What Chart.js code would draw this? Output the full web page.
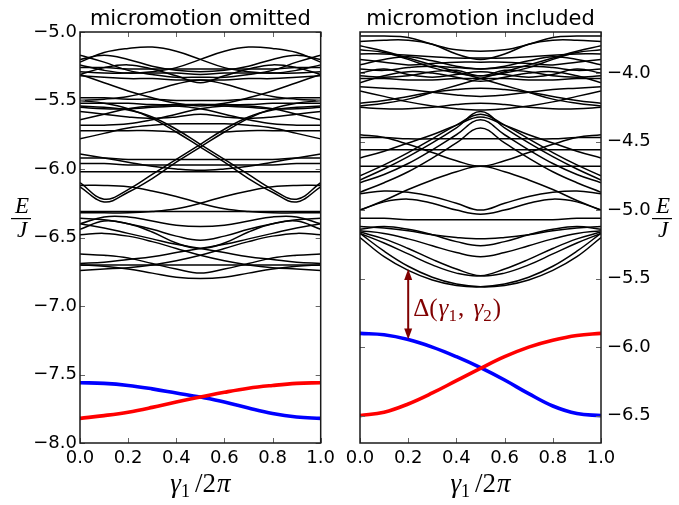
<!DOCTYPE html>
<html>
<head>
<meta charset="utf-8">
<script src="https://cdn.jsdelivr.net/npm/chart.js@4/dist/chart.umd.min.js"></script>
<style>
  html, body { margin: 0; padding: 0; background: #fff; }
  #wrap { position: relative; width: 679px; height: 505px; }
  canvas { position: absolute; top: 0; }
  #omitted { left: 0; }
  #included { left: 340px; }
</style>
</head>
<body>
<div id="wrap">
  <canvas id="omitted" width="340" height="505"></canvas>
  <canvas id="included" width="339" height="505"></canvas>
</div>
<script>
// gamma_1 / 2pi sample points, shared by every band
var gammaSteps = [0, 0.1, 0.2, 0.3, 0.4, 0.5, 0.6, 0.7, 0.8, 0.9, 1.0];
var xTicks = [0, 0.2, 0.4, 0.6, 0.8, 1.0];
var omittedTicks = [-8.0, -7.5, -7.0, -6.5, -6.0, -5.5, -5.0];
var includedTicks = [-6.5, -6.0, -5.5, -5.0, -4.5, -4.0];

// two lowest levels, micromotion omitted
var omittedRed  = [-7.82, -7.80, -7.775, -7.74, -7.70, -7.665, -7.63, -7.60, -7.58, -7.565, -7.56];
var omittedBlue = [-7.56, -7.565, -7.58, -7.605, -7.635, -7.665, -7.70, -7.745, -7.785, -7.81, -7.82];

// excited bands, micromotion omitted
var omittedBands = [
  [-5.22, -5.15, -5.12, -5.11, -5.14, -5.20, -5.26, -5.29, -5.30, -5.28, -5.24],
  [-5.24, -5.28, -5.30, -5.29, -5.26, -5.20, -5.14, -5.11, -5.12, -5.15, -5.22],
  [-5.20, -5.17, -5.20, -5.25, -5.28, -5.29, -5.28, -5.25, -5.20, -5.17, -5.20],
  [-5.26, -5.26, -5.27, -5.27, -5.27, -5.27, -5.27, -5.27, -5.27, -5.26, -5.26],
  [-5.29, -5.30, -5.30, -5.30, -5.30, -5.31, -5.30, -5.30, -5.30, -5.30, -5.29],
  [-5.17, -5.22, -5.28, -5.31, -5.33, -5.33, -5.33, -5.31, -5.28, -5.22, -5.17],
  [-5.31, -5.26, -5.24, -5.27, -5.32, -5.37, -5.32, -5.27, -5.24, -5.26, -5.31],
  [-5.32, -5.33, -5.34, -5.34, -5.35, -5.35, -5.35, -5.34, -5.34, -5.33, -5.32],
  [-5.31, -5.37, -5.43, -5.48, -5.52, -5.54, -5.52, -5.48, -5.43, -5.37, -5.31],
  [-5.50, -5.49, -5.47, -5.43, -5.38, -5.35, -5.38, -5.43, -5.47, -5.49, -5.50],
  [-5.48, -5.48, -5.49, -5.49, -5.50, -5.50, -5.50, -5.49, -5.49, -5.48, -5.48],
  [-5.52, -5.52, -5.52, -5.53, -5.53, -5.53, -5.53, -5.53, -5.52, -5.52, -5.52],
  [-5.55, -5.56, -5.56, -5.55, -5.54, -5.53, -5.54, -5.55, -5.56, -5.56, -5.55],
  [-5.64, -5.60, -5.56, -5.54, -5.54, -5.56, -5.60, -5.64, -5.67, -5.68, -5.68],
  [-5.68, -5.68, -5.67, -5.64, -5.60, -5.56, -5.54, -5.54, -5.56, -5.60, -5.64],
  [-5.58, -5.60, -5.62, -5.63, -5.62, -5.60, -5.62, -5.63, -5.62, -5.60, -5.58],
  [-5.78, -5.74, -5.70, -5.68, -5.67, -5.67, -5.67, -5.68, -5.70, -5.74, -5.78],
  [-5.72, -5.72, -5.72, -5.72, -5.73, -5.73, -5.73, -5.72, -5.72, -5.72, -5.72],
  [-6.13, -6.24, -6.17, -6.07, -5.95, -5.84, -5.73, -5.63, -5.56, -5.52, -5.50],
  [-5.50, -5.52, -5.56, -5.63, -5.73, -5.84, -5.95, -6.07, -6.17, -6.24, -6.13],
  [-6.10, -6.22, -6.15, -6.04, -5.93, -5.82, -5.71, -5.62, -5.57, -5.55, -5.54],
  [-5.54, -5.55, -5.57, -5.62, -5.71, -5.82, -5.93, -6.04, -6.15, -6.22, -6.10],
  [-5.89, -5.92, -5.95, -5.98, -6.00, -6.01, -6.00, -5.98, -5.95, -5.92, -5.89],
  [-5.92, -5.92, -5.93, -5.93, -5.93, -5.93, -5.93, -5.93, -5.93, -5.92, -5.92],
  [-5.96, -5.96, -5.97, -5.97, -5.97, -5.97, -5.97, -5.97, -5.97, -5.96, -5.96],
  [-6.02, -6.02, -6.02, -6.02, -6.02, -6.02, -6.02, -6.02, -6.02, -6.02, -6.02],
  [-6.12, -6.12, -6.13, -6.16, -6.20, -6.25, -6.29, -6.31, -6.32, -6.32, -6.32],
  [-6.32, -6.32, -6.32, -6.31, -6.29, -6.25, -6.20, -6.16, -6.13, -6.12, -6.12],
  [-6.31, -6.31, -6.31, -6.31, -6.31, -6.31, -6.31, -6.31, -6.31, -6.31, -6.31],
  [-6.40, -6.35, -6.35, -6.38, -6.41, -6.42, -6.41, -6.38, -6.35, -6.35, -6.40],
  [-6.36, -6.37, -6.40, -6.44, -6.49, -6.52, -6.49, -6.44, -6.40, -6.37, -6.36],
  [-6.44, -6.38, -6.40, -6.46, -6.54, -6.58, -6.54, -6.46, -6.40, -6.38, -6.44],
  [-6.40, -6.43, -6.47, -6.51, -6.55, -6.58, -6.61, -6.64, -6.66, -6.68, -6.69],
  [-6.69, -6.68, -6.66, -6.64, -6.61, -6.58, -6.55, -6.51, -6.47, -6.43, -6.40],
  [-6.62, -6.63, -6.65, -6.69, -6.73, -6.76, -6.73, -6.69, -6.65, -6.63, -6.62],
  [-6.70, -6.70, -6.70, -6.70, -6.70, -6.70, -6.70, -6.70, -6.70, -6.70, -6.70],
  [-6.70, -6.71, -6.73, -6.76, -6.79, -6.80, -6.79, -6.76, -6.73, -6.71, -6.70],
  [-6.48, -6.47, -6.49, -6.53, -6.58, -6.63, -6.67, -6.70, -6.72, -6.73, -6.74],
  [-6.74, -6.73, -6.72, -6.70, -6.67, -6.63, -6.58, -6.53, -6.49, -6.47, -6.48]
];

// two lowest levels, micromotion included
var includedRed  = [-6.50, -6.475, -6.415, -6.335, -6.245, -6.155, -6.07, -6.00, -5.95, -5.915, -5.90];
var includedBlue = [-5.90, -5.91, -5.945, -6.00, -6.07, -6.15, -6.24, -6.34, -6.43, -6.485, -6.50];

// excited bands, micromotion included
var includedBands = [
  [-3.73, -3.73, -3.74, -3.79, -3.83, -3.84, -3.83, -3.79, -3.74, -3.73, -3.73],
  [-3.77, -3.76, -3.76, -3.79, -3.86, -3.90, -3.86, -3.79, -3.76, -3.76, -3.77],
  [-3.80, -3.84, -3.89, -3.94, -3.99, -4.04, -4.09, -4.14, -4.19, -4.22, -4.24],
  [-4.24, -4.22, -4.19, -4.14, -4.09, -4.04, -3.99, -3.94, -3.89, -3.84, -3.80],
  [-3.86, -3.86, -3.87, -3.88, -3.89, -3.89, -3.89, -3.88, -3.87, -3.86, -3.86],
  [-3.90, -3.92, -3.94, -3.93, -3.92, -3.92, -3.92, -3.93, -3.94, -3.92, -3.90],
  [-3.94, -3.90, -3.88, -3.91, -3.95, -3.97, -3.95, -3.91, -3.88, -3.90, -3.94],
  [-3.97, -3.98, -3.96, -3.95, -3.96, -3.97, -3.96, -3.95, -3.96, -3.98, -3.97],
  [-4.00, -3.97, -4.01, -4.03, -4.01, -3.99, -4.01, -4.03, -4.01, -3.97, -4.00],
  [-4.02, -4.03, -4.02, -3.99, -3.98, -4.02, -3.98, -3.99, -4.02, -4.03, -4.02],
  [-4.04, -4.04, -4.05, -4.05, -4.04, -4.04, -4.04, -4.05, -4.05, -4.04, -4.04],
  [-3.83, -3.85, -3.90, -3.96, -4.00, -4.02, -4.00, -3.96, -3.90, -3.85, -3.83],
  [-4.07, -4.02, -3.99, -4.00, -4.03, -4.06, -4.03, -4.00, -3.99, -4.02, -4.07],
  [-4.10, -4.11, -4.12, -4.14, -4.16, -4.17, -4.16, -4.14, -4.12, -4.11, -4.10],
  [-4.22, -4.20, -4.17, -4.14, -4.12, -4.11, -4.12, -4.14, -4.17, -4.20, -4.22],
  [-4.13, -4.17, -4.21, -4.24, -4.26, -4.27, -4.26, -4.24, -4.21, -4.17, -4.13],
  [-4.25, -4.26, -4.26, -4.25, -4.23, -4.22, -4.23, -4.25, -4.26, -4.26, -4.25],
  [-4.62, -4.57, -4.51, -4.45, -4.38, -4.32, -4.38, -4.45, -4.51, -4.57, -4.62],
  [-4.78, -4.70, -4.61, -4.51, -4.40, -4.28, -4.40, -4.51, -4.61, -4.70, -4.78],
  [-4.75, -4.67, -4.58, -4.48, -4.38, -4.30, -4.38, -4.48, -4.58, -4.67, -4.75],
  [-4.80, -4.74, -4.66, -4.56, -4.45, -4.34, -4.45, -4.56, -4.66, -4.74, -4.80],
  [-4.87, -4.80, -4.72, -4.62, -4.51, -4.40, -4.51, -4.62, -4.72, -4.80, -4.87],
  [-4.47, -4.47, -4.48, -4.48, -4.48, -4.48, -4.48, -4.48, -4.48, -4.47, -4.47],
  [-4.56, -4.56, -4.56, -4.56, -4.56, -4.56, -4.56, -4.56, -4.56, -4.56, -4.56],
  [-4.68, -4.68, -4.68, -4.68, -4.68, -4.68, -4.68, -4.68, -4.68, -4.68, -4.68],
  [-5.00, -4.93, -4.85, -4.78, -4.72, -4.68, -4.72, -4.78, -4.85, -4.93, -5.00],
  [-4.45, -4.47, -4.52, -4.58, -4.64, -4.68, -4.64, -4.58, -4.52, -4.47, -4.45],
  [-4.88, -4.86, -4.87, -4.90, -4.95, -5.00, -4.95, -4.90, -4.87, -4.86, -4.88],
  [-5.00, -4.94, -4.92, -4.95, -5.00, -5.03, -5.00, -4.95, -4.92, -4.94, -5.00],
  [-5.06, -5.06, -5.07, -5.07, -5.07, -5.07, -5.07, -5.07, -5.07, -5.06, -5.06],
  [-5.12, -5.13, -5.15, -5.18, -5.20, -5.21, -5.20, -5.18, -5.15, -5.13, -5.12],
  [-5.14, -5.12, -5.14, -5.18, -5.23, -5.26, -5.23, -5.18, -5.14, -5.12, -5.14],
  [-5.15, -5.17, -5.21, -5.26, -5.31, -5.34, -5.31, -5.26, -5.21, -5.17, -5.15],
  [-5.16, -5.21, -5.28, -5.36, -5.43, -5.48, -5.46, -5.40, -5.32, -5.24, -5.17],
  [-5.17, -5.24, -5.32, -5.40, -5.46, -5.48, -5.43, -5.36, -5.28, -5.21, -5.16],
  [-5.17, -5.30, -5.41, -5.49, -5.54, -5.56, -5.55, -5.51, -5.44, -5.34, -5.20],
  [-5.20, -5.34, -5.44, -5.51, -5.55, -5.56, -5.54, -5.49, -5.41, -5.30, -5.17]
];

// gap between ground band and first excited band
var gapGamma = 0.2;
var gapTop = -5.43;
var gapBottom = -5.945;

var SANS = '"DejaVu Sans", sans-serif';
var SERIF = '"Liberation Serif", "DejaVu Serif", serif';
var GAP_COLOR = '#800000';

function series(vals, color, width) {
  return {
    data: vals.map(function (v, i) { return { x: gammaSteps[i], y: v }; }),
    borderColor: color,
    borderWidth: width,
    pointRadius: 0,
    fill: false,
    tension: 0.4
  };
}

function buildSets(bands, red, blue) {
  var sets = [series(red, '#ff0000', 3.6), series(blue, '#0000ff', 3.6)];
  bands.forEach(function (b) { sets.push(series(b, '#000000', 1.5)); });
  return sets;
}

// draws a row of text pieces (for the math labels), starting at x
function drawRuns(ctx, runs, x, y, centered) {
  var total = 0;
  runs.forEach(function (r) {
    ctx.font = r.font;
    r.w = ctx.measureText(r.text).width + (r.gap || 0);
    total += r.w;
  });
  if (centered) x -= total / 2;
  ctx.textAlign = 'left';
  ctx.textBaseline = 'alphabetic';
  runs.forEach(function (r) {
    ctx.font = r.font;
    ctx.fillText(r.text, x, y + (r.dy || 0));
    x += r.w;
  });
}

function drawFraction(ctx, cx) {
  ctx.fillStyle = '#000';
  ctx.textAlign = 'center';
  ctx.textBaseline = 'alphabetic';
  ctx.font = 'italic 23px ' + SERIF;
  ctx.fillText('E', cx + 1, 213);
  ctx.fillText('J', cx + 1, 237);
  ctx.fillRect(cx - 10, 218, 20, 1.2);
}

function drawArrowHead(ctx, x, y, dir) {
  ctx.beginPath();
  ctx.moveTo(x, y);
  ctx.lineTo(x - 4, y + dir * 11);
  ctx.lineTo(x + 4, y + dir * 11);
  ctx.closePath();
  ctx.fill();
}

var decorPlugin = {
  id: 'decor',
  afterDraw: function (chart, args, opts) {
    var ctx = chart.ctx;
    var area = chart.chartArea;
    var xs = chart.scales.x, ys = chart.scales.y;
    ctx.save();

    // inward tick marks on all four sides
    ctx.strokeStyle = '#666';
    ctx.lineWidth = 1;
    ctx.beginPath();
    xs.ticks.forEach(function (t) {
      var px = Math.round(xs.getPixelForValue(t.value)) + 0.5;
      ctx.moveTo(px, area.top); ctx.lineTo(px, area.top + 5);
      ctx.moveTo(px, area.bottom); ctx.lineTo(px, area.bottom - 5);
    });
    ys.ticks.forEach(function (t) {
      var py = Math.round(ys.getPixelForValue(t.value)) + 0.5;
      ctx.moveTo(area.left, py); ctx.lineTo(area.left + 5, py);
      ctx.moveTo(area.right, py); ctx.lineTo(area.right - 5, py);
    });
    ctx.stroke();

    // axes frame
    ctx.strokeStyle = '#1a1a1a';
    ctx.lineWidth = 1.5;
    ctx.strokeRect(area.left, area.top, area.right - area.left, area.bottom - area.top);

    // panel title
    ctx.fillStyle = '#000';
    ctx.font = '21px ' + SANS;
    ctx.textAlign = 'center';
    ctx.textBaseline = 'alphabetic';
    ctx.fillText(opts.title, (area.left + area.right) / 2, 25);

    // x axis label
    drawRuns(ctx, [
      { text: '\u03b3', font: 'italic 27px ' + SERIF },
      { text: '1', font: '18px ' + SERIF, dy: 5, gap: 5 },
      { text: '/2', font: '27px ' + SERIF, gap: 1 },
      { text: '\u03c0', font: 'italic 27px ' + SERIF }
    ], (area.left + area.right) / 2, 492, true);

    // E / J
    drawFraction(ctx, opts.fracX);

    if (opts.gap) {
      var gx = xs.getPixelForValue(gapGamma);
      var top = ys.getPixelForValue(gapTop);
      var bottom = ys.getPixelForValue(gapBottom);
      ctx.strokeStyle = GAP_COLOR;
      ctx.fillStyle = GAP_COLOR;
      ctx.lineWidth = 2;
      ctx.beginPath();
      ctx.moveTo(gx, top + 8);
      ctx.lineTo(gx, bottom - 8);
      ctx.stroke();
      drawArrowHead(ctx, gx, top, 1);
      drawArrowHead(ctx, gx, bottom, -1);
      drawRuns(ctx, [
        { text: '\u0394(', font: '25px ' + SERIF, gap: 1 },
        { text: '\u03b3', font: 'italic 25px ' + SERIF },
        { text: '1', font: '17px ' + SERIF, dy: 5, gap: 1 },
        { text: ', ', font: '25px ' + SERIF, gap: 3 },
        { text: '\u03b3', font: 'italic 25px ' + SERIF },
        { text: '2', font: '17px ' + SERIF, dy: 5, gap: 1 },
        { text: ')', font: '25px ' + SERIF }
      ], gx + 5, (top + bottom) / 2 + 12, false);
    }
    ctx.restore();
  }
};

function tickText(v) {
  return v.toFixed(1).replace('-', '\u2212');
}

function makeChart(id, bands, red, blue, cfg) {
  return new Chart(document.getElementById(id), {
    type: 'line',
    data: { datasets: buildSets(bands, red, blue) },
    plugins: [decorPlugin],
    options: {
      responsive: false,
      animation: false,
      layout: { padding: cfg.padding },
      plugins: {
        legend: { display: false },
        tooltip: { enabled: false },
        decor: { title: cfg.title, fracX: cfg.fracX, gap: cfg.gap }
      },
      scales: {
        x: {
          type: 'linear',
          min: 0,
          max: 1,
          grid: { display: false, drawTicks: false },
          border: { display: false },
          afterBuildTicks: function (s) { s.ticks = xTicks.map(function (v) { return { value: v }; }); },
          afterFit: function (s) { s.height = 62; },
          ticks: {
            padding: 5,
            color: '#000',
            autoSkip: false,
            maxRotation: 0,
            font: { family: SANS, size: 18 },
            callback: function (v) { return tickText(v); }
          }
        },
        y: {
          type: 'linear',
          position: cfg.side,
          min: cfg.min,
          max: cfg.max,
          grid: { display: false, drawTicks: false },
          border: { display: false },
          afterBuildTicks: function (s) { s.ticks = cfg.ticks.map(function (v) { return { value: v }; }); },
          afterFit: function (s) { s.width = cfg.axisWidth; },
          ticks: {
            padding: cfg.tickPad,
            color: '#000',
            autoSkip: false,
            font: { family: SANS, size: 18 },
            callback: function (v) { return tickText(v); }
          }
        }
      }
    }
  });
}

makeChart('omitted', omittedBands, omittedRed, omittedBlue, {
  title: 'micromotion omitted',
  side: 'left',
  min: -8.0,
  max: -5.0,
  ticks: omittedTicks,
  axisWidth: 80,
  tickPad: 3,
  padding: { top: 32, right: 19, bottom: 0, left: 0 },
  fracX: 21,
  gap: false
});

makeChart('included', includedBands, includedRed, includedBlue, {
  title: 'micromotion included',
  side: 'right',
  min: -6.7,
  max: -3.7,
  ticks: includedTicks,
  axisWidth: 78,
  tickPad: 6,
  padding: { top: 32, right: 0, bottom: 0, left: 20 },
  fracX: 322,
  gap: true
});
</script>
</body>
</html>
